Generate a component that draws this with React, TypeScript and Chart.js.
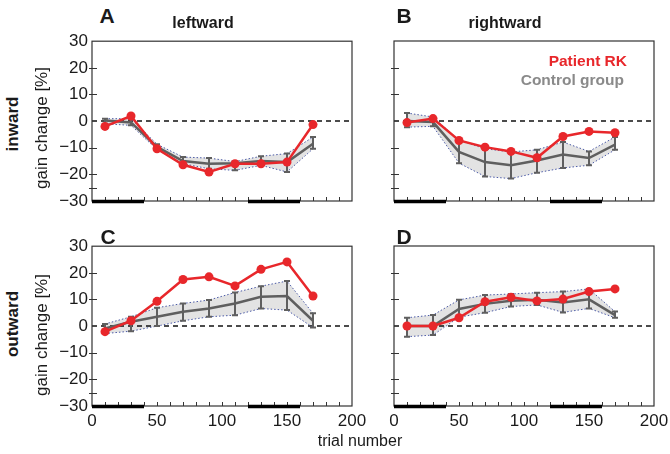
import React, { useEffect, useRef } from 'react';
import { Chart, registerables } from 'chart.js';
Chart.register(...registerables);

// ---- data ----
const trials = [10, 30, 50, 70, 90, 110, 130, 150, 170];
const yTickLabels = [-30, -20, -10, 0, 10, 20, 30];
const xTickLabels = [0, 50, 100, 150, 200];
const trialBlocks = [[0, 40], [120, 160]];

// A: inward, leftward
const aPatient = [-2, 1.9, -10.4, -16.4, -19.1, -16, -16, -15.4, -1.3];
const aMean = [0.2, -0.5, -9.7, -15, -16, -15.8, -15, -15.4, -8.5];
const aUpper = [0.9, 0.9, -8.7, -13.5, -13.9, -15.2, -13.2, -12.2, -6];
const aLower = [-1, -1.6, -10.7, -16, -17.9, -18.5, -16.6, -19.1, -10.4];

// B: inward, rightward
const bPatient = [-0.6, 0.9, -7.3, -9.8, -11.4, -13.8, -5.8, -3.9, -4.4];
const bMean = [0, -0.4, -11.6, -15.4, -16.6, -14.8, -12.6, -13.9, -8.9];
const bUpper = [3, 1.5, -7.2, -10.4, -11.6, -10.8, -7.9, -11.4, -6];
const bLower = [-2.3, -2, -15.8, -20.8, -21.6, -19.4, -17.6, -16.6, -10.8];

// C: outward, leftward
const cPatient = [-2.1, 2, 9.3, 17.5, 18.5, 15.1, 21.3, 24.1, 11.3];
const cMean = [-0.9, 1.6, 3.5, 5.4, 6.6, 8.5, 11, 11.3, 2];
const cUpper = [0.8, 3.5, 6.9, 8.5, 9.8, 12.6, 15, 16.9, 4.8];
const cLower = [-2.8, -1.9, 0, 2, 3.5, 4.1, 6.6, 6, -0.5];

// D: outward, rightward
const dPatient = [0, 0, 3.1, 9.1, 10.8, 9.4, 10.1, 12.9, 13.9];
const dMean = [0, 0, 6.4, 8.3, 9.5, 9.8, 8.8, 10, 4.1];
const dUpper = [3.1, 4.1, 9.8, 11.6, 12, 12.5, 12.9, 13.9, 5.4];
const dLower = [-4, -3.4, 3.3, 5, 7.3, 7.9, 5.1, 6.6, 3.1];

// ---- styles ----
const FONT = "'Liberation Sans', Arial, Helvetica, sans-serif";
const RED = '#e8272b';
const GRAY = '#5f5f5f';
const PLOT_W = 260;
const PLOT_H = 160;
const Y_W = 45;
const X_H = 28;
const PAD_T = 14;
const PAD_R = 22;

type PanelProps = {
  patient: number[];
  mean: number[];
  upper: number[];
  lower: number[];
  showX: boolean;
  showY: boolean;
  plotLeft: number;
  plotTop: number;
};

const pts = (arr: number[]) => trials.map((t, i) => ({ x: t, y: arr[i] }));

function Panel(p: PanelProps) {
  const ref = useRef<HTMLCanvasElement>(null);
  useEffect(() => {
    if (!ref.current) return;
    const overlay = {
      id: 'overlay',
      beforeDatasetsDraw(chart: any) {
        const { ctx, chartArea: a, scales } = chart;
        const y0 = scales.y.getPixelForValue(0);
        ctx.save();
        ctx.strokeStyle = '#111';
        ctx.lineWidth = 1.5;
        ctx.setLineDash([5, 4]);
        ctx.beginPath();
        ctx.moveTo(a.left, y0);
        ctx.lineTo(a.right, y0);
        ctx.stroke();
        ctx.restore();
      },
      beforeDatasetDraw(chart: any, args: any) {
        if (args.index !== 1) return;
        const { ctx, scales } = chart;
        ctx.save();
        ctx.strokeStyle = GRAY;
        ctx.lineWidth = 2;
        trials.forEach((t, i) => {
          const x = scales.x.getPixelForValue(t);
          const yu = scales.y.getPixelForValue(p.upper[i]);
          const yl = scales.y.getPixelForValue(p.lower[i]);
          ctx.beginPath();
          ctx.moveTo(x, yu);
          ctx.lineTo(x, yl);
          ctx.moveTo(x - 3, yu);
          ctx.lineTo(x + 3, yu);
          ctx.moveTo(x - 3, yl);
          ctx.lineTo(x + 3, yl);
          ctx.stroke();
        });
        ctx.restore();
      },
      afterDraw(chart: any) {
        const { ctx, chartArea: a, scales } = chart;
        ctx.save();
        ctx.strokeStyle = '#333';
        ctx.lineWidth = 1.2;
        ctx.strokeRect(a.left, a.top, a.right - a.left, a.bottom - a.top);
        ctx.lineWidth = 1;
        ctx.beginPath();
        [20, 10, -10, -20, -25].forEach((v) => {
          const y = Math.round(scales.y.getPixelForValue(v)) + 0.5;
          ctx.moveTo(a.left - 3, y);
          ctx.lineTo(a.left + 5, y);
        });
        for (let v = 10; v < 200; v += 10) {
          const x = Math.round(scales.x.getPixelForValue(v)) + 0.5;
          ctx.moveTo(x, a.bottom);
          ctx.lineTo(x, a.bottom - 4);
        }
        ctx.stroke();
        ctx.strokeStyle = '#000';
        ctx.lineWidth = 3.5;
        trialBlocks.forEach(([s, e]) => {
          ctx.beginPath();
          ctx.moveTo(scales.x.getPixelForValue(s), a.bottom + 0.5);
          ctx.lineTo(scales.x.getPixelForValue(e), a.bottom + 0.5);
          ctx.stroke();
        });
        ctx.restore();
      },
    };
    const tickFont = { family: FONT, size: 17 };
    const chart = new Chart(ref.current, {
      type: 'line',
      data: {
        datasets: [
          {
            data: pts(p.patient),
            borderColor: RED,
            backgroundColor: RED,
            borderWidth: 2.5,
            pointRadius: 4.5,
            pointBorderWidth: 0,
            fill: false,
          },
          {
            data: pts(p.mean),
            borderColor: GRAY,
            borderWidth: 2.5,
            pointRadius: 0,
            fill: false,
          },
          {
            data: pts(p.upper),
            borderColor: '#4b5aa6',
            borderWidth: 1,
            borderDash: [1.5, 2],
            pointRadius: 0,
            fill: '+1',
            backgroundColor: '#e3e3e3',
          },
          {
            data: pts(p.lower),
            borderColor: '#4b5aa6',
            borderWidth: 1,
            borderDash: [1.5, 2],
            pointRadius: 0,
            fill: false,
          },
        ],
      },
      options: {
        responsive: false,
        animation: false,
        devicePixelRatio: 1,
        layout: { padding: { top: PAD_T, right: PAD_R, left: 0, bottom: 0 } },
        plugins: {
          legend: { display: false },
          tooltip: { enabled: false },
          filler: { drawTime: 'beforeDatasetsDraw' },
        },
        scales: {
          x: {
            type: 'linear',
            min: 0,
            max: 200,
            afterBuildTicks: (s: any) => {
              s.ticks = xTickLabels.map((v) => ({ value: v }));
            },
            ticks: { display: p.showX, font: tickFont, color: '#1a1a1a', padding: 5, maxRotation: 0 },
            grid: { display: false, drawTicks: false },
            border: { display: false },
            afterFit: (s: any) => {
              s.height = X_H;
            },
          },
          y: {
            type: 'linear',
            min: -30,
            max: 30,
            afterBuildTicks: (s: any) => {
              s.ticks = yTickLabels.map((v) => ({ value: v }));
            },
            ticks: {
              display: p.showY,
              font: tickFont,
              color: '#1a1a1a',
              padding: 4,
              callback: (v: any) => (v < 0 ? '\u2212' + Math.abs(v) : String(v)),
            },
            grid: { display: false, drawTicks: false },
            border: { display: false },
            afterFit: (s: any) => {
              s.width = Y_W;
            },
          },
        },
      },
      plugins: [overlay],
    } as any);
    return () => chart.destroy();
  }, []);
  const w = Y_W + PLOT_W + PAD_R;
  const h = PAD_T + PLOT_H + X_H;
  return (
    <canvas
      ref={ref}
      width={w}
      height={h}
      style={{ position: 'absolute', left: p.plotLeft - Y_W, top: p.plotTop - PAD_T, width: w, height: h }}
    />
  );
}

const textBase: React.CSSProperties = {
  position: 'absolute',
  fontFamily: FONT,
  color: '#1a1a1a',
  whiteSpace: 'nowrap',
  lineHeight: 1,
};

function Label(props: { x: number; y: number; text: string; size: number; bold?: boolean; rot?: boolean; color?: string; align?: 'center' | 'right' }) {
  const tx = props.align === 'right' ? '-100%' : '-50%';
  return (
    <div
      style={{
        ...textBase,
        left: props.x,
        top: props.y,
        fontSize: props.size,
        fontWeight: props.bold ? 'bold' : 'normal',
        color: props.color || '#1a1a1a',
        transform: `translate(${tx}, -50%)${props.rot ? ' rotate(-90deg)' : ''}`,
      }}
    >
      {props.text}
    </div>
  );
}

export default function App() {
  return (
    <div style={{ position: 'absolute', left: 0, top: 0, width: 670, height: 454, background: '#fff', overflow: 'hidden' }}>
      <Panel patient={aPatient} mean={aMean} upper={aUpper} lower={aLower} showX={false} showY={true} plotLeft={92} plotTop={41} />
      <Panel patient={bPatient} mean={bMean} upper={bUpper} lower={bLower} showX={false} showY={false} plotLeft={394} plotTop={41} />
      <Panel patient={cPatient} mean={cMean} upper={cUpper} lower={cLower} showX={true} showY={true} plotLeft={92} plotTop={246} />
      <Panel patient={dPatient} mean={dMean} upper={dUpper} lower={dLower} showX={true} showY={false} plotLeft={394} plotTop={246} />

      <Label x={107} y={15} text="A" size={21} bold />
      <Label x={404} y={15} text="B" size={21} bold />
      <Label x={108} y={236} text="C" size={21} bold />
      <Label x={404} y={236} text="D" size={21} bold />

      <Label x={203} y={23} text="leftward" size={16} bold />
      <Label x={505} y={23} text="rightward" size={16} bold />

      <Label x={12} y={124} text="inward" size={17} bold rot />
      <Label x={41} y={128} text="gain change [%]" size={17} rot />
      <Label x={12} y={324} text="outward" size={17} bold rot />
      <Label x={41} y={335} text="gain change [%]" size={17} rot />

      <Label x={360} y={441} text="trial number" size={16} />

      <Label x={627} y={61} text="Patient RK" size={15.5} bold color={RED} align="right" />
      <Label x={624} y={80} text="Control group" size={15.5} bold color="#8a8a8a" align="right" />
    </div>
  );
}
